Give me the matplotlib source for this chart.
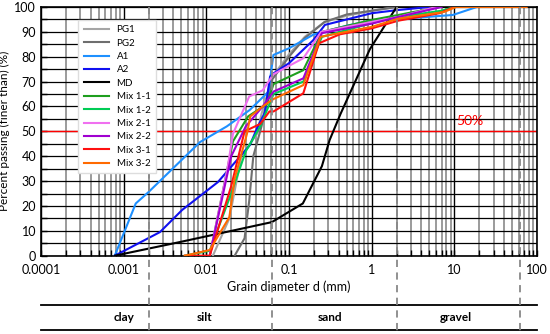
import numpy as np
import matplotlib.pyplot as plt
from matplotlib.ticker import LogLocator, MultipleLocator, FixedLocator

plt.rcParams['font.family'] = ['Lato', 'DejaVu Sans']

# grain size distribution data (d in mm, percent passing)
pg1_d = [0.012, 0.019, 0.0265, 0.041, 0.0465, 0.063, 0.1, 0.155, 0.27, 0.5, 1, 2]
pg1_p = [0, 15, 40, 49, 57, 72, 81, 88, 94, 96.5, 98.5, 100]
pg2_d = [0.022, 0.029, 0.033, 0.037, 0.0465, 0.063, 0.1, 0.155, 0.27, 0.5, 1, 2]
pg2_p = [0, 7, 22, 40, 52, 71, 80, 87.5, 94, 97, 98.5, 100]
a1_d = [0.00078, 0.0014, 0.002, 0.0084, 0.0177, 0.0335, 0.0445, 0.0565, 0.0647,
        0.1, 0.2, 0.5, 1, 2.7, 9.6, 18.7]
a1_p = [0, 21, 25.6, 45.7, 52, 58.6, 62.6, 66, 80.7, 83.4, 89, 92.5, 94.5, 95.4, 96.8, 100]
a2_d = [0.00078, 0.00275, 0.0051, 0.0138, 0.0337, 0.042, 0.051, 0.059, 0.065,
        0.1, 0.197, 0.272, 1, 2.1, 5]
a2_p = [0, 9.5, 18.4, 29.6, 44.5, 52, 57.5, 72, 73.3, 77.4, 86.7, 92.8, 97.5, 98.8, 100]
md_d = [0.00078, 0.0048, 0.062, 0.147, 0.25, 0.31, 0.42, 0.95, 2.0]
md_p = [0, 5.5, 13.5, 21, 36, 46.5, 57, 83, 100]
m11_d = [0.011, 0.021, 0.032, 0.054, 0.065, 0.149, 0.25, 1, 2.1, 6.6]
m11_p = [0, 46, 56, 61, 69, 74.6, 90, 94.8, 96.8, 100]
m12_d = [0.0055, 0.011, 0.02, 0.03, 0.045, 0.065, 0.149, 0.25, 1, 2.1, 7, 10]
m12_p = [0, 2, 25, 42, 52, 65, 70, 88, 93.5, 96, 98.5, 100]
m21_d = [0.011, 0.018, 0.021, 0.033, 0.048, 0.065, 0.149, 0.245, 1, 2.1, 6]
m21_p = [0, 35, 49, 64, 66.5, 73, 79.4, 90, 94, 96, 100]
m22_d = [0.011, 0.02, 0.03, 0.048, 0.065, 0.149, 0.25, 1, 2.1, 7]
m22_p = [0, 40, 52, 60, 66, 71.3, 89.5, 93.3, 96, 100]
m31_d = [0.0055, 0.011, 0.02, 0.029, 0.045, 0.058, 0.065, 0.149, 0.23, 0.41, 1, 2.1, 6.6, 10]
m31_p = [0, 0, 28, 50, 53, 58, 58, 65.3, 85.4, 89, 91.4, 94.5, 97.5, 100]
m32_d = [0.0055, 0.011, 0.019, 0.022, 0.031, 0.034, 0.048, 0.065, 0.149, 0.24,
         1, 2.1, 7.5, 10.5, 75]
m32_p = [0, 2.3, 15.5, 31, 49, 56, 60, 63, 68.6, 88, 92, 95.3, 98, 100, 100]

series = [
    ('PG1', pg1_d, pg1_p, '#A5A5A5'),
    ('PG2', pg2_d, pg2_p, '#6E6E6E'),
    ('A1', a1_d, a1_p, '#1E90FF'),
    ('A2', a2_d, a2_p, '#1010F0'),
    ('MD', md_d, md_p, '#000000'),
    ('Mix 1-1', m11_d, m11_p, '#1E9E1E'),
    ('Mix 1-2', m12_d, m12_p, '#00CC55'),
    ('Mix 2-1', m21_d, m21_p, '#F070F0'),
    ('Mix 2-2', m22_d, m22_p, '#A000D0'),
    ('Mix 3-1', m31_d, m31_p, '#FF1010'),
    ('Mix 3-2', m32_d, m32_p, '#FF6A00'),
]

bounds = [0.002, 0.063, 2, 63]
soil_names = ['clay', 'silt', 'sand', 'gravel']
soil_pos = [0.001, 0.0095, 0.31, 10.4]
xtick_vals = [0.0001, 0.001, 0.01, 0.1, 1, 10, 100]
xtick_labels = ['0.0001', '0.001', '0.01', '0.1', '1', '10', '100']

fig = plt.figure(figsize=(5.5, 3.34), dpi=100)
ax = fig.add_axes([41/550, 1-255.7/334, 496/550, 248.7/334])

ax.set_xscale('log')
ax.set_xlim(0.0001, 100)
ax.set_ylim(0, 100)

ax.xaxis.set_major_locator(FixedLocator(xtick_vals))
ax.set_xticklabels(xtick_labels)
ax.xaxis.set_minor_locator(LogLocator(base=10, subs=np.arange(2, 10), numticks=20))
ax.xaxis.set_minor_formatter(plt.NullFormatter())
ax.yaxis.set_major_locator(MultipleLocator(10))
ax.yaxis.set_minor_locator(MultipleLocator(5))

ax.grid(True, which='major', axis='x', color='black', lw=1.0)
ax.grid(True, which='minor', axis='x', color='#808080', lw=1.1)
ax.grid(True, which='both', axis='y', color='black', lw=0.9)
ax.set_axisbelow(True)
ax.tick_params(which='both', direction='in', labelsize=9, length=4, width=1)
ax.tick_params(axis='x', pad=6)
for s in ax.spines.values():
    s.set_linewidth(1.2)

ax.axhline(50, color='red', lw=1.0, zorder=2)
ax.text(15.4, 54, '50%', color='red', fontsize=10, ha='center', va='center')

for name, d, p, c in series:
    ax.plot(d, p, color=c, lw=1.5, label=name, zorder=3)

ax.set_xlabel('Grain diameter d (mm)', fontsize=9, labelpad=3)
ax.set_ylabel('Percent passing (finer than) (%)', fontsize=8.5)
ax.yaxis.set_label_coords(-0.062, 0.5)

leg = ax.legend(loc='upper left', bbox_to_anchor=(0.075, 0.948), borderaxespad=0,
                fontsize=7, fancybox=False, edgecolor='#DDDDDD', framealpha=1,
                handlelength=2.6, labelspacing=0.45, borderpad=0.55)
leg.set_zorder(5)

# soil class table under the plot
tr = ax.get_xaxis_transform()
for b in bounds:
    ax.plot([b, b], [1.0, -0.315], transform=tr, color='#888888', lw=1.3,
            ls=(0, (4, 3)), clip_on=False, zorder=4)
for yy in [-0.198, -0.299]:
    ax.plot([0.0001, 100], [yy, yy], transform=tr, color='black', lw=1.3, clip_on=False)
for name, xp in zip(soil_names, soil_pos):
    ax.text(xp, -0.249, name, transform=tr, fontsize=8.5, fontweight='bold',
            ha='center', va='center')

fig.savefig('out.png', dpi=100)
